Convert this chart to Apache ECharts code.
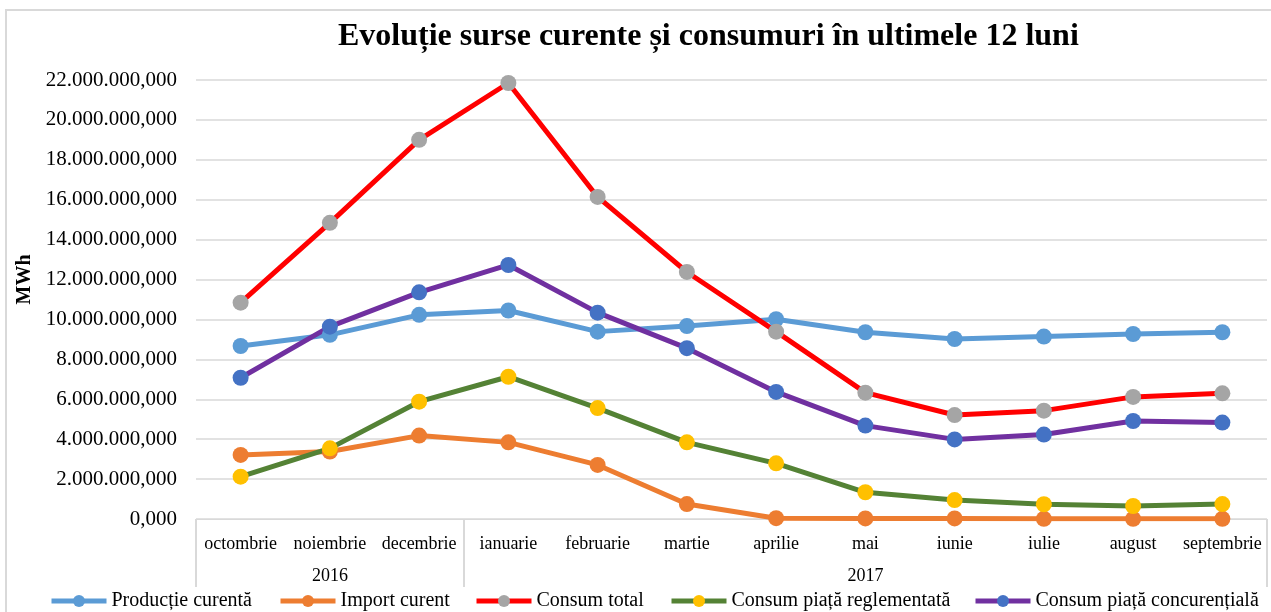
<!DOCTYPE html>
<html>
<head>
<meta charset="utf-8">
<script src="https://cdn.jsdelivr.net/npm/echarts@6/dist/echarts.min.js"></script>
<style>
html,body{margin:0;padding:0;background:#fff;}
#c{width:1271px;height:612px;}
</style>
</head>
<body>
<div id="c"></div>
<script>
const months = ['octombrie','noiembrie','decembrie','ianuarie','februarie','martie','aprilie','mai','iunie','iulie','august','septembrie'];
const yearLabels = {1:'2016', 7:'2017'};
const seriesNames = ['Producție curentă','Import curent','Consum total','Consum piață reglementată','Consum piață concurențială'];
const productieCurenta = [8670000, 9230000, 10230000, 10450000, 9390000, 9670000, 10010000, 9360000, 9020000, 9140000, 9270000, 9360000];
const importCurent = [3210000, 3380000, 4180000, 3840000, 2710000, 750000, 40000, 30000, 30000, 10000, 10000, 10000];
const consumTotal = [10840000, 14840000, 19000000, 21850000, 16140000, 12380000, 9390000, 6330000, 5210000, 5430000, 6120000, 6300000];
const consumReglementata = [2120000, 3540000, 5880000, 7130000, 5560000, 3840000, 2790000, 1340000, 950000, 740000, 650000, 750000];
const consumConcurentiala = [7080000, 9640000, 11360000, 12730000, 10340000, 8560000, 6370000, 4680000, 3990000, 4230000, 4910000, 4830000];

const serif = '"Liberation Serif","Times New Roman",serif';
function fmt(v){
  const s = Math.round(v).toString().replace(/\B(?=(\d{3})+(?!\d))/g,'.');
  return s + ',000';
}
function mk(name, data, lineColor, markColor){
  return {
    name: name, type: 'line', data: data,
    symbol: 'circle', symbolSize: 16,
    lineStyle: {color: lineColor, width: 5},
    itemStyle: {color: markColor},
    emphasis: {disabled: true},
    animation: false
  };
}
const legendLefts = [44, 273, 469, 664, 968];
const legends = seriesNames.map(function(n, i){
  return {
    data: [n], left: legendLefts[i], top: 586,
    itemWidth: 55, itemHeight: 15, itemGap: 0,
    lineStyle: {width: 5},
    textStyle: {fontFamily: serif, fontSize: 20, color: '#000'}
  };
});
const chart = echarts.init(document.getElementById('c'));
chart.setOption({
  backgroundColor: '#fff',
  animation: false,
  title: {
    text: 'Evoluție surse curente și consumuri în ultimele 12 luni',
    left: 333, top: 16,
    textStyle: {fontFamily: serif, fontSize: 32, fontWeight: 'bold', color: '#000'}
  },
  graphic: [{
    type: 'rect', shape: {x: 6, y: 10, width: 1300, height: 700},
    style: {fill: 'none', stroke: '#d9d9d9', lineWidth: 2}, silent: true
  }],
  legend: legends,
  grid: {left: 196, right: 4, top: 80, bottom: 93, containLabel: false},
  xAxis: [{
    type: 'category', data: months, boundaryGap: true,
    axisLine: {show: true, lineStyle: {color: '#d9d9d9', width: 1}},
    axisTick: {show: true, length: 68, lineStyle: {color: '#d9d9d9', width: 2},
      interval: function(i){ return i === 0 || i === 3; }},
    axisLabel: {interval: 0, margin: 16, fontFamily: serif, fontSize: 18, color: '#000'}
  },{
    type: 'category', data: months, position: 'bottom', boundaryGap: true,
    axisLine: {show: false}, axisTick: {show: false},
    axisLabel: {margin: 48, fontFamily: serif, fontSize: 18, color: '#000',
      interval: function(i){ return yearLabels[i] !== undefined; },
      formatter: function(v, i){ return yearLabels[i] || ''; }}
  }],
  yAxis: {
    type: 'value', min: 0, max: 22000000, interval: 2000000,
    name: 'MWh', nameLocation: 'middle', nameGap: 160, nameRotate: 90,
    nameTextStyle: {fontFamily: serif, fontSize: 20, fontWeight: 'bold', color: '#000', padding: [0, 0, 0, 40]},
    axisLine: {show: false}, axisTick: {show: false},
    splitLine: {lineStyle: {color: '#d9d9d9', width: 1.5}},
    axisLabel: {margin: 19, fontFamily: serif, fontSize: 21, color: '#000', formatter: fmt}
  },
  series: [
    mk(seriesNames[0], productieCurenta, '#5B9BD5', '#5B9BD5'),
    mk(seriesNames[1], importCurent, '#ED7D31', '#ED7D31'),
    mk(seriesNames[2], consumTotal, '#FF0000', '#A5A5A5'),
    mk(seriesNames[3], consumReglementata, '#548235', '#FFC000'),
    mk(seriesNames[4], consumConcurentiala, '#7030A0', '#4472C4')
  ]
});
</script>
</body>
</html>
